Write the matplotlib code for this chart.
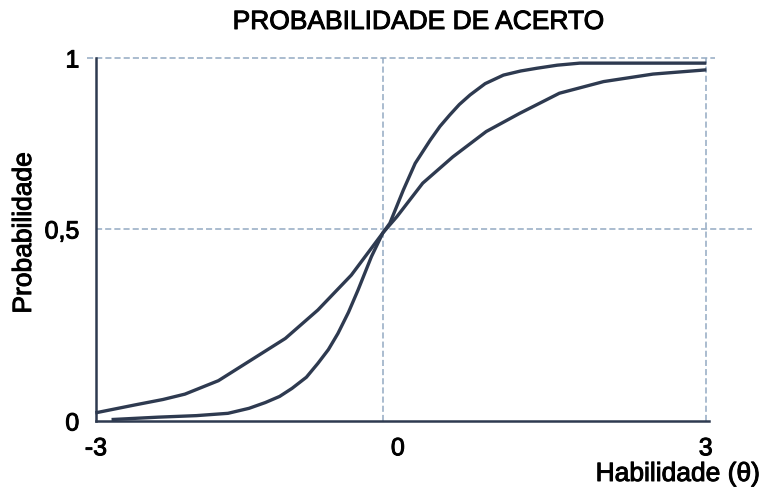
import numpy as np
import matplotlib
matplotlib.use("Agg")
import matplotlib.pyplot as plt
import matplotlib.patheffects as pe
from matplotlib.transforms import ScaledTranslation

plt.rcParams['font.family'] = ['Liberation Sans', 'DejaVu Sans']

# Curvas (theta, probabilidade)
theta_a = [-2.82, -2.35, -1.95, -1.62, -1.40, -1.23, -1.08, -0.95, -0.80, -0.68, -0.57,
           -0.47, -0.36, -0.26, -0.12, 0.0, 0.065, 0.19, 0.30, 0.44, 0.53, 0.62, 0.71,
           0.81, 0.95, 1.12, 1.28, 1.43, 1.62, 1.83, 2.99]
p_a = [0.004, 0.010, 0.014, 0.020, 0.033, 0.048, 0.064, 0.085, 0.114, 0.150, 0.186,
       0.228, 0.283, 0.341, 0.428, 0.49, 0.517, 0.614, 0.692, 0.760, 0.800, 0.833, 0.864,
       0.892, 0.925, 0.950, 0.962, 0.970, 0.979, 0.985, 0.985]

theta_b = [-2.99, -2.59, -2.30, -2.07, -1.72, -1.37, -1.02, -0.68, -0.33, 0.0, 0.13,
           0.37, 0.65, 0.96, 1.27, 1.64, 2.05, 2.51, 2.99]
p_b = [0.022, 0.042, 0.056, 0.070, 0.105, 0.160, 0.215, 0.289, 0.380, 0.49, 0.536,
       0.634, 0.711, 0.785, 0.838, 0.897, 0.931, 0.953, 0.965]

x_ticks = [-3, 0, 3]
x_tick_labels = ['-3', '0', '3']
y_ticks = [0, 0.5, 1]
y_tick_labels = ['0', '0,5', '1']

line_color = '#2e3a50'
grid_color = '#93aac2'

# escala em dois pedacos (o desenho original nao e simetrico)
def fx(x):
    x = np.asarray(x, dtype=float)
    return np.where(x < 0, x * 287 / 3, x * 323 / 3)

def fx_inv(u):
    u = np.asarray(u, dtype=float)
    return np.where(u < 0, u * 3 / 287, u * 3 / 323)

def fy(y):
    y = np.asarray(y, dtype=float)
    return np.where(y < 0.5, y * 384, 192 + (y - 0.5) * 342)

def fy_inv(u):
    u = np.asarray(u, dtype=float)
    return np.where(u < 192, u / 384, 0.5 + (u - 192) / 342)

fig = plt.figure(figsize=(7.63, 4.99), dpi=100)
ax = fig.add_axes([96 / 763, 1 - 421 / 499, 613 / 763, 363 / 499])
ax.set_xscale('function', functions=(fx, fx_inv))
ax.set_yscale('function', functions=(fy, fy_inv))
ax.set_xlim(-3, 3.03)
ax.set_ylim(0, 1)

# linhas de grade tracejadas
for xv in [0, 3]:
    ax.axvline(xv, color=grid_color, lw=1.1, ls=(0, (4, 2)), zorder=1)
ax.axhline(0.5, xmin=0, xmax=1.07, color=grid_color, lw=1.1, ls=(0, (4, 2)), clip_on=False, zorder=1)
ax.axhline(1, xmin=-0.015, xmax=1.01, color=grid_color, lw=1.1, ls=(0, (4, 2)), clip_on=False, zorder=1)

ax.plot(theta_a, p_a, color=line_color, lw=2.4, clip_on=False, zorder=3)
ax.plot(theta_b, p_b, color=line_color, lw=2.4, clip_on=False, zorder=3)

for s in ['top', 'right']:
    ax.spines[s].set_visible(False)
for s in ['left', 'bottom']:
    ax.spines[s].set_color(line_color)
    ax.spines[s].set_linewidth(1.8)

ax.set_xticks(x_ticks)
ax.set_xticklabels(x_tick_labels)
ax.set_yticks(y_ticks)
ax.set_yticklabels(y_tick_labels)
ax.tick_params(axis='both', length=0, labelsize=18, colors='black')
ax.tick_params(axis='x', pad=11)
ax.tick_params(axis='y', pad=12)
ax.xaxis.set_minor_locator(plt.NullLocator())
ax.yaxis.set_minor_locator(plt.NullLocator())

lbl0 = ax.get_xticklabels()[1]
lbl0.set_transform(lbl0.get_transform() + ScaledTranslation(0.15, 0, fig.dpi_scale_trans))

# texto um pouco mais grosso, como no original escaneado
heavy = [pe.withStroke(linewidth=0.7, foreground='black')]
for t in ax.get_xticklabels() + ax.get_yticklabels():
    t.set_path_effects(heavy)

fig.text(418 / 763, 1 - 22 / 499, 'PROBABILIDADE DE ACERTO', fontsize=19, ha='center', va='center',
         path_effects=heavy)
fig.text(24 / 763, 1 - 233 / 499, 'Probabilidade', fontsize=19, rotation=90, ha='center', va='center',
         path_effects=heavy)
fig.text(760 / 763, 1 - 474 / 499, 'Habilidade (θ)', fontsize=19, ha='right', va='center',
         path_effects=heavy)

fig.savefig('out.png', dpi=100)
